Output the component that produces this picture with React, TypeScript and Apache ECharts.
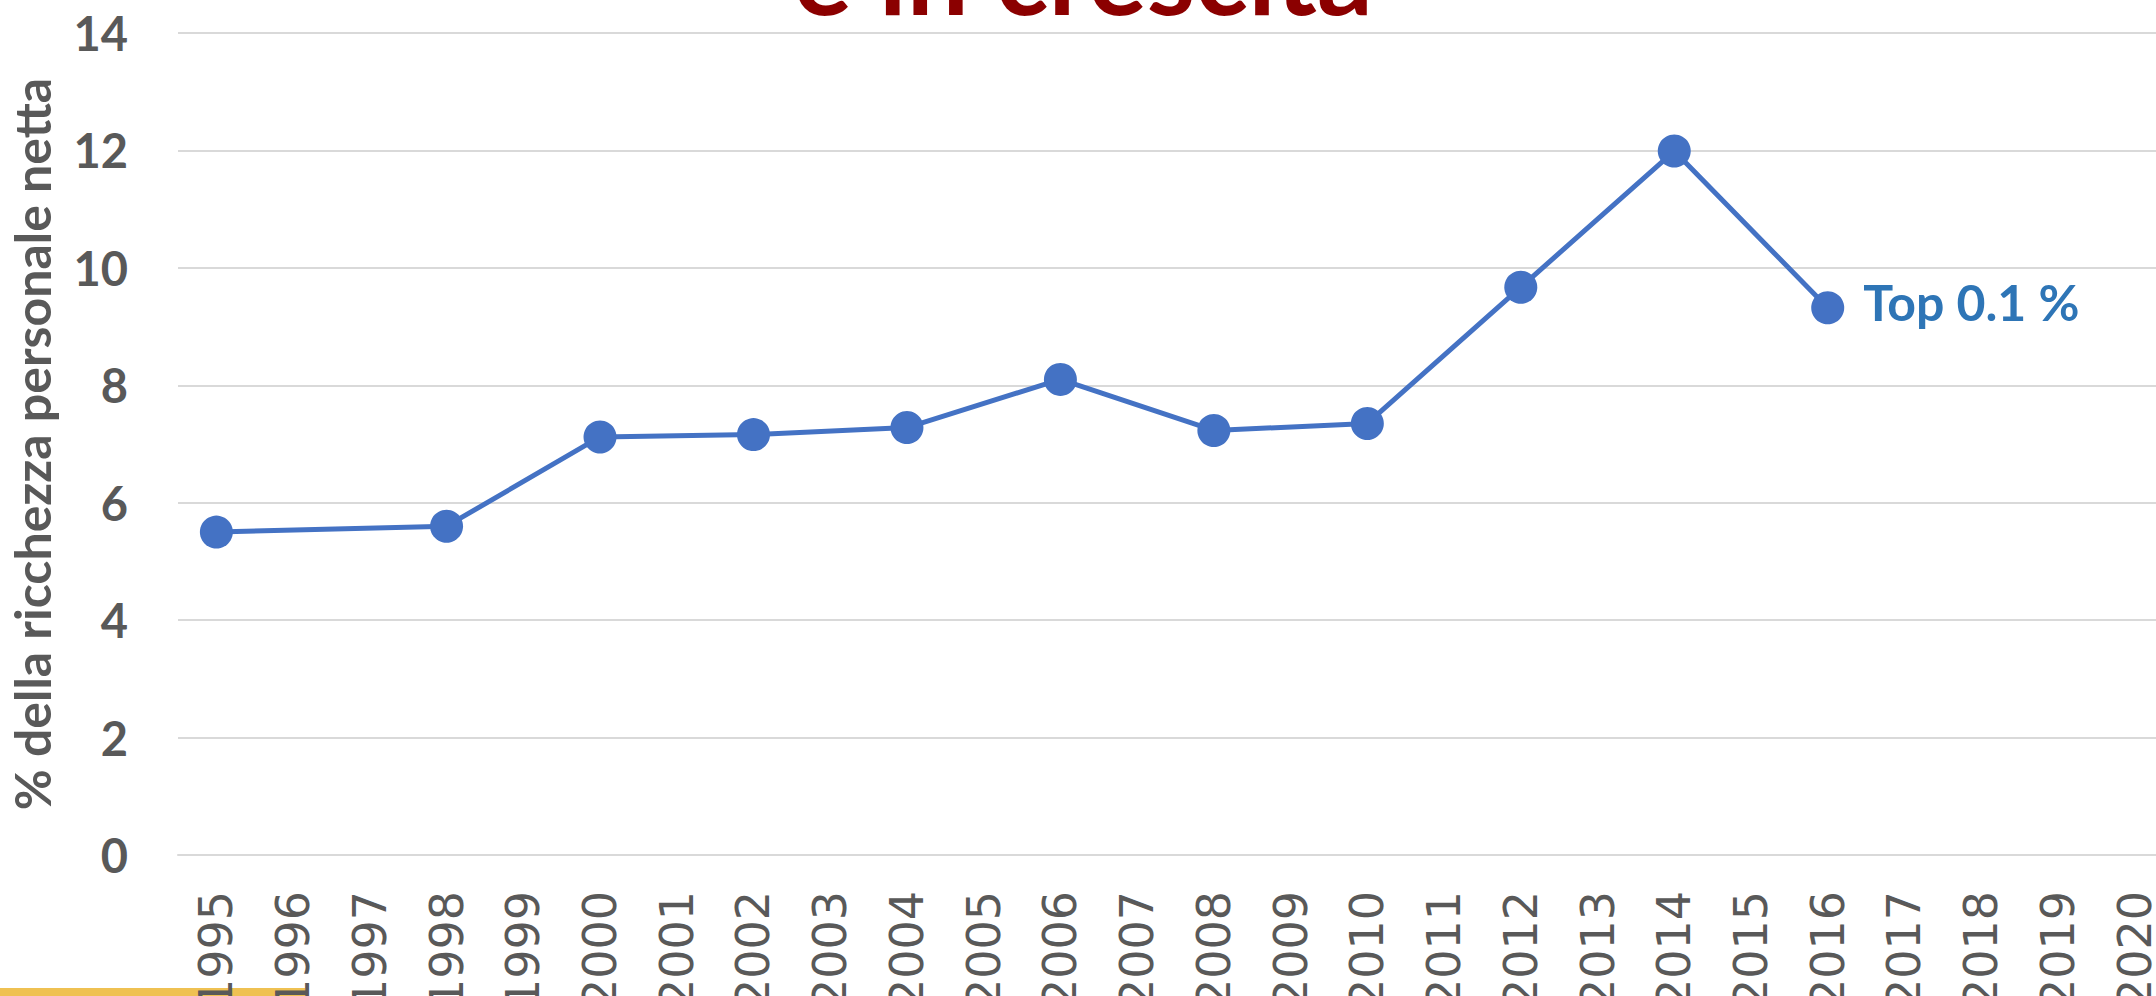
import React, { useEffect, useRef } from "react";
import * as echarts from "echarts";

const years = [
  "1995","1996","1997","1998","1999","2000","2001","2002","2003","2004",
  "2005","2006","2007","2008","2009","2010","2011","2012","2013","2014",
  "2015","2016","2017","2018","2019","2020",
];
const top01: (number | null)[] = [
  5.5, null, null, 5.6, null, 7.12, null, 7.16, null, 7.28,
  null, 8.1, null, 7.23, null, 7.35, null, 9.67, null, 11.99,
  null, 9.32, null, null, null, null,
];
const seriesLabel = "Top 0.1 %";
const yAxisName = "% della ricchezza personale netta";
const titleText = "è in crescita";

export default function App() {
  const ref = useRef<HTMLDivElement>(null);
  useEffect(() => {
    if (!ref.current) return;
    const chart = echarts.init(ref.current, undefined, { renderer: "svg" });
    const lastIdx = top01.reduce((acc: number, v, i) => (v != null ? i : acc), 0);
    chart.setOption({
      animation: false,
      backgroundColor: "#ffffff",
      grid: {
        left: 178,
        right: 0,
        top: 33,
        bottom: 141,
        containLabel: false,
        outerBoundsMode: "none",
      },
      xAxis: {
        type: "category",
        data: years,
        boundaryGap: true,
        axisLine: { lineStyle: { color: "#D9D9D9", width: 2 } },
        axisTick: { show: false },
        axisLabel: {
          rotate: 90,
          interval: 0,
          margin: 36,
          color: "#595959",
          fontFamily: "DejaVu Sans",
          fontSize: 46,
        },
      },
      yAxis: {
        type: "value",
        min: 0,
        max: 14,
        interval: 2,
        name: yAxisName,
        nameLocation: "middle",
        nameRotate: 90,
        nameGap: 121,
        nameTextStyle: {
          color: "#595959",
          fontFamily: "Lato",
          fontWeight: "bold",
          fontSize: 50,
        },
        axisLine: { show: false },
        axisTick: { show: false },
        axisLabel: {
          margin: 50,
          color: "#595959",
          fontFamily: "Lato",
          fontWeight: "bold",
          fontSize: 47,
        },
        splitLine: { lineStyle: { color: "#D9D9D9", width: 2 } },
      },
      series: [
        {
          type: "line",
          data: top01.map((v, i) =>
            i === lastIdx
              ? {
                  value: v,
                  label: {
                    show: true,
                    position: "right",
                    distance: 19,
                    offset: [0, -6],
                    formatter: seriesLabel,
                    color: "#2E75B6",
                    fontFamily: "Lato",
                    fontWeight: "bold",
                    fontSize: 50,
                  },
                }
              : v
          ),
          connectNulls: true,
          symbol: "circle",
          symbolSize: 33,
          lineStyle: { color: "#4472C4", width: 5 },
          itemStyle: { color: "#4472C4" },
          z: 3,
        },
      ],
      graphic: [
        {
          type: "text",
          x: 1083,
          y: 27,
          style: {
            text: titleText,
            fill: "#8B0000",
            font: "bold 110px Lato",
            textAlign: "center",
            textVerticalAlign: "bottom",
          },
          z: 10,
        },
        {
          type: "rect",
          shape: { x: 0, y: 988, width: 305, height: 8 },
          style: { fill: "#EFC152" },
          z: -1,
        },
      ],
    });
    return () => chart.dispose();
  }, []);
  return (
    <div
      style={{
        position: "absolute",
        left: 0,
        top: 0,
        width: 2156,
        height: 996,
        overflow: "hidden",
      }}
    >
      <div ref={ref} style={{ width: 2173, height: 996 }} />
    </div>
  );
}
